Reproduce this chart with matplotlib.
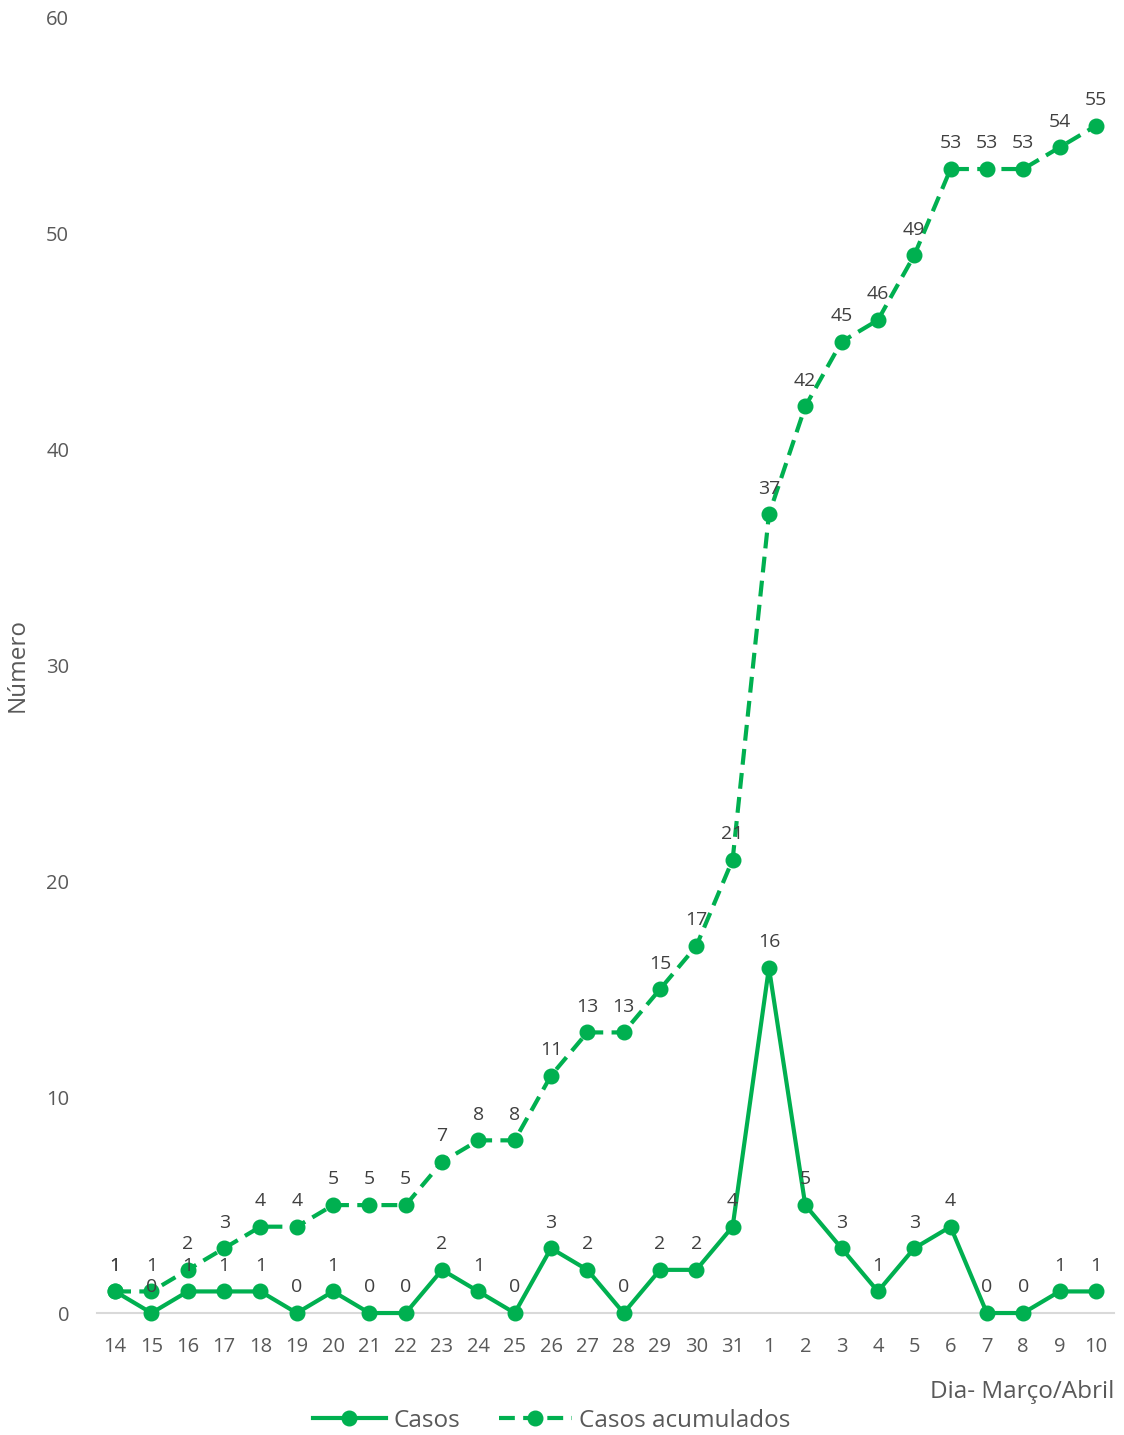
import matplotlib
matplotlib.use("Agg")
import matplotlib.pyplot as plt

# Dados (dias de março/abril)
dias = ["14", "15", "16", "17", "18", "19", "20", "21", "22", "23", "24", "25", "26",
        "27", "28", "29", "30", "31", "1", "2", "3", "4", "5", "6", "7", "8", "9", "10"]
casos = [1, 0, 1, 1, 1, 0, 1, 0, 0, 2, 1, 0, 3, 2, 0, 2, 2, 4, 16, 5, 3, 1, 3, 4, 0, 0, 1, 1]
acumulados = [1, 1, 2, 3, 4, 4, 5, 5, 5, 7, 8, 8, 11, 13, 13, 15, 17, 21, 37, 42, 45, 46,
              49, 53, 53, 53, 54, 55]
y_ticks = [0, 10, 20, 30, 40, 50, 60]

verde = "#00B050"
cinza_txt = "#595959"
cinza_lbl = "#404040"

plt.rcParams["font.family"] = ["Open Sans", "DejaVu Sans"]

fig = plt.figure(figsize=(11.24, 14.35), dpi=100)
ax = fig.add_axes([0.0863, 0.085, 0.9048, 0.9025])

x = list(range(len(dias)))

ax.plot(x, casos, color=verde, lw=3, marker="o", ms=10.5, label="Casos",
        clip_on=False, zorder=3)
ax.plot(x, acumulados, color=verde, lw=3, marker="o", ms=10.5,
        linestyle=(0, (3.8, 2)), label="Casos acumulados", clip_on=False, zorder=3)

# rótulos de dados
for xi, v in zip(x, acumulados):
    ax.annotate(str(v), (xi, v), xytext=(0, 12), textcoords="offset points",
                ha="center", va="bottom", fontsize=14, color=cinza_lbl)
for xi, v in zip(x, casos):
    ax.annotate(str(v), (xi, v), xytext=(0, 12), textcoords="offset points",
                ha="center", va="bottom", fontsize=14, color=cinza_lbl)

ax.set_xlim(-0.5, len(dias) - 0.5)
ax.set_ylim(0, 60)
ax.set_xticks(x)
ax.set_xticklabels(dias)
ax.set_yticks(y_ticks)
ax.tick_params(axis="both", length=0, labelsize=14.5, colors=cinza_txt)
ax.tick_params(axis="x", pad=17)
ax.tick_params(axis="y", pad=20)

for s in ["top", "right", "left"]:
    ax.spines[s].set_visible(False)
ax.spines["bottom"].set_color("#D9D9D9")
ax.spines["bottom"].set_linewidth(1.5)

ax.set_ylabel("Número", fontsize=17.5, color=cinza_txt)
ax.yaxis.set_label_coords(-0.066, 0.5)
ax.set_xlabel("Dia- Março/Abril", fontsize=17.5, color=cinza_txt, ha="right")
ax.xaxis.set_label_coords(1.0, -0.052)

ax.legend(loc="upper center", bbox_to_anchor=(0.447, -0.0625), ncol=2, frameon=False,
          fontsize=17.5, handlelength=3.0, columnspacing=1.6, labelcolor=cinza_txt,
          handletextpad=0.3, borderaxespad=0.2)

fig.savefig("out.png", dpi=100)
